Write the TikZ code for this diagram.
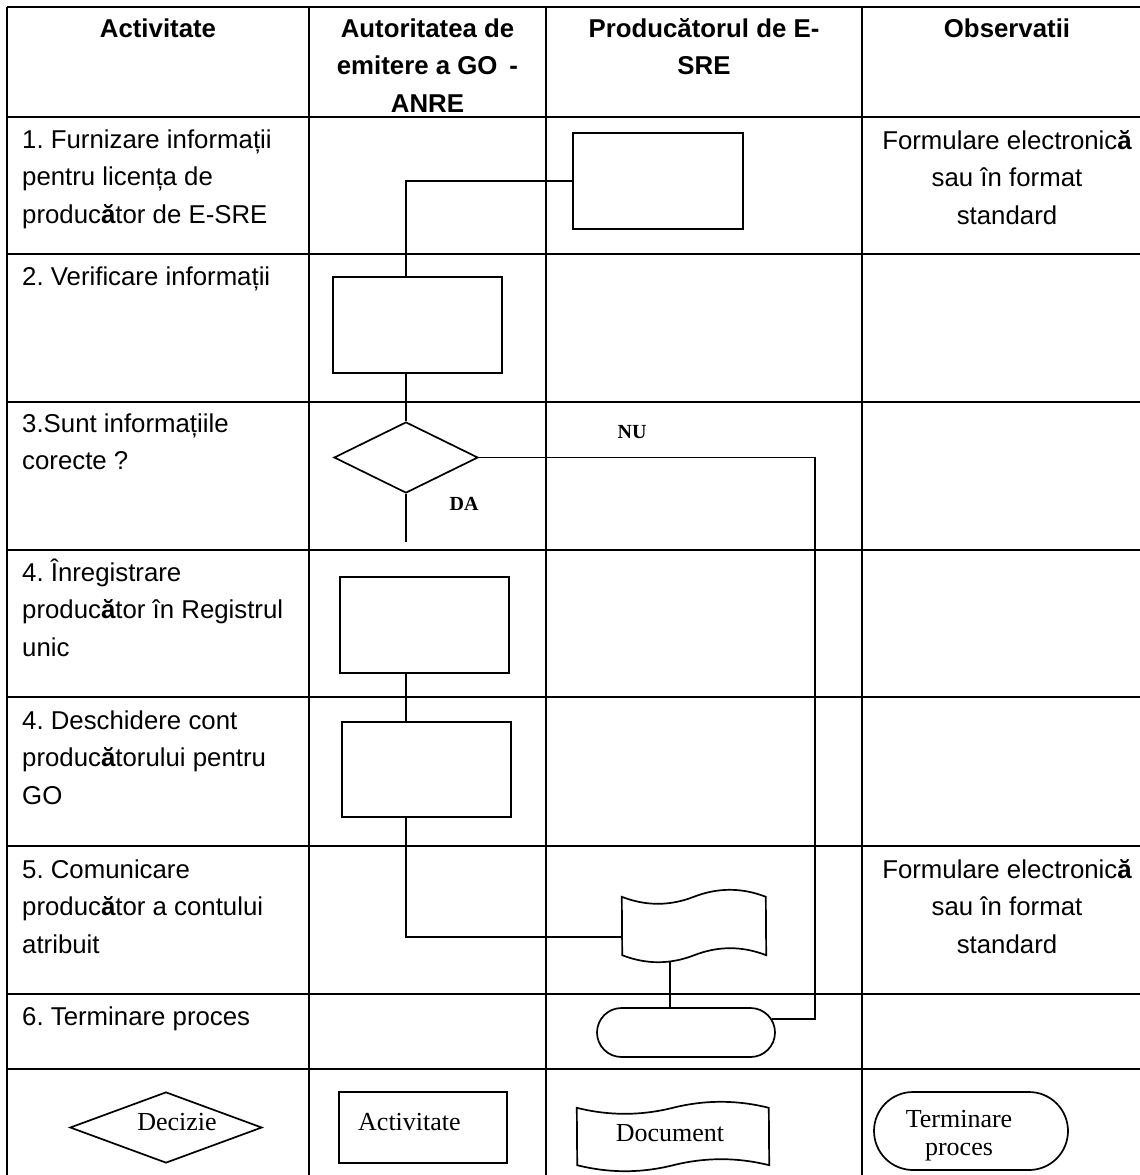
\documentclass[tikz,border=0pt]{standalone}
\usepackage{fontspec}
\setmainfont{Liberation Sans}
\newfontfamily\seriffont{Liberation Serif}
\usetikzlibrary{shapes.geometric,shapes.misc,calc}
\frenchspacing
\newcommand{\ab}[1]{{\bfseries #1}}
\newcommand{\docpath}[3]{%
  \draw[shp] (#1.north west)
    .. controls +(#2/6,4*#3/3) and +(-#2/6,4*#3/3) .. ++(#2/2,0)
    .. controls +(#2/6,-4*#3/3) and +(-#2/6,-4*#3/3) .. ++(#2/2,0)
    -- (#1.south east)
    .. controls +(-#2/6,-4*#3/3) and +(#2/6,-4*#3/3) .. ++(-#2/2,0)
    .. controls +(-#2/6,4*#3/3) and +(#2/6,4*#3/3) .. ++(-#2/2,0)
    -- cycle;}
\begin{document}
\begin{tikzpicture}[x=1pt,y=-1pt,
  tline/.style={line width=2.1pt},
  shp/.style={draw,line width=1.7pt},
  conn/.style={line width=1.7pt},
  actbox/.style={shp,rectangle,inner sep=0pt},
  decbox/.style={shp,diamond,inner sep=0pt},
  termbox/.style={shp,rounded rectangle,inner sep=0pt},
  docbox/.style={rectangle,draw=none,inner sep=0pt},
  celltext/.style={anchor=base west,inner sep=0pt,font=\fontsize{25.8}{37.5}\selectfont},
  hdrtext/.style={anchor=base,inner sep=0pt,font=\bfseries\fontsize{25.8}{37.5}\selectfont},
  obstext/.style={anchor=base,inner sep=0pt,font=\fontsize{25.8}{37.5}\selectfont},
  yesno/.style={inner sep=0pt,font=\seriffont\bfseries\fontsize{20}{24}\selectfont},
  legtext/.style={inner sep=0pt,font=\seriffont\fontsize{26}{28}\selectfont}]
\useasboundingbox (0,0) rectangle (1140,1175);
% table grid
\begin{scope}
\clip (0,0) rectangle (1140,1175);
\foreach \yy in {7,117,254,402,550,697,846,994,1069}
  \draw[tline] (7,\yy) -- (1160,\yy);
\foreach \xx in {7,309,546,862,1152}
  \draw[tline] (\xx,7) -- (\xx,1185);
\end{scope}
% header
\node[hdrtext] (h1) at (158,37) {\parbox[t]{290pt}{\centering Activitate}};
\node[hdrtext] (h2) at (427.5,37) {\parbox[t]{230pt}{\centering Autoritatea de\\emitere a GO\hspace{12pt}-\\ANRE}};
\node[hdrtext] (h3) at (704,37) {\parbox[t]{300pt}{\centering Producătorul de E-\\SRE}};
\node[hdrtext] (h4) at (1007,37) {\parbox[t]{290pt}{\centering Observatii}};
% first column
\node[celltext] (t1) at (22,148) {\parbox[t]{285pt}{\raggedright 1. Furnizare informații\\pentru licența de\\produc\ab{ă}tor de E-SRE}};
\node[celltext] (t2) at (22,285) {\parbox[t]{285pt}{\raggedright 2. Verificare informații}};
\node[celltext] (t3) at (22,432) {\parbox[t]{285pt}{\raggedright 3.Sunt informațiile\\corecte ?}};
\node[celltext] (t4) at (22,581) {\parbox[t]{285pt}{\raggedright 4. Înregistrare\\produc\ab{ă}tor în Registrul\\unic}};
\node[celltext] (t5) at (22,729) {\parbox[t]{285pt}{\raggedright 4. Deschidere cont\\produc\ab{ă}torului pentru\\GO}};
\node[celltext] (t6) at (22,878) {\parbox[t]{285pt}{\raggedright 5. Comunicare\\produc\ab{ă}tor a contului\\atribuit}};
\node[celltext] (t7) at (22,1025) {\parbox[t]{285pt}{\raggedright 6. Terminare proces}};
% observations
\node[obstext] (o1) at (1007,149) {\parbox[t]{290pt}{\centering Formulare electronic\ab{ă}\\sau în format\\standard}};
\node[obstext] (o6) at (1007,878) {\parbox[t]{290pt}{\centering Formulare electronic\ab{ă}\\sau în format\\standard}};
% flow shapes
\node[actbox,minimum width=170pt,minimum height=96pt] (r1) at (658,181) {};
\node[actbox,minimum width=169pt,minimum height=96pt] (r2) at (417.5,325) {};
\node[decbox,minimum width=144pt,minimum height=71pt] (dec) at (406,457.5) {};
\node[actbox,minimum width=169pt,minimum height=96pt] (r4) at (424.5,625) {};
\node[actbox,minimum width=169pt,minimum height=95pt] (r5) at (426.5,769.5) {};
\node[docbox,minimum width=144pt,minimum height=58pt] (doc) at (694,926) {};
\docpath{doc}{144}{7}
\node[termbox,minimum width=178pt,minimum height=49pt] (term) at (686,1032.5) {};
\node[yesno] (nu) at (632,432) {NU};
\node[yesno] (da) at (464,504) {DA};
% connectors
\coordinate (spine) at (406,0);
\coordinate (daend) at (406,542);
\coordinate (nuc) at (815,457.5);
\coordinate (docin) at ($(doc.west)+(0,11)$);
\coordinate (docbot) at ($(doc.south west)+(48,6)$);
\coordinate (termin) at ($(term.east)+(-4,-13.5)$);
\draw[conn] (r1.west) -| (spine |- r2.north);
\draw[conn] (spine |- r2.south) -- (dec.north);
\draw[conn] (dec.south) -- (daend);
\draw[conn] (spine |- r4.south) -- (spine |- r5.north);
\draw[conn] (spine |- r5.south) |- (docin);
\draw[conn] (docbot) -- (docbot |- term.north);
\draw[conn] (dec.east) -- (nuc) |- (termin);
% legend
\node[decbox,minimum width=192pt,minimum height=71pt] (ldec) at (166,1127.5) {};
\node[legtext] (ldect) at (177,1122) {Decizie};
\node[actbox,minimum width=168pt,minimum height=71pt] (lrect) at (423,1127.5) {};
\node[legtext,anchor=west] (lrectt) at (358,1122) {Activitate};
\node[docbox,minimum width=192pt,minimum height=57pt] (ldoc) at (673,1136.5) {};
\docpath{ldoc}{192}{6}
\node[legtext] (ldoct) at (670,1133) {Document};
\node[termbox,minimum width=194pt,minimum height=78pt] (lterm) at (971,1131) {};
\node[legtext,align=center] (ltermt) at (959,1136) {Terminare\\proces};
\end{tikzpicture}
\end{document}
